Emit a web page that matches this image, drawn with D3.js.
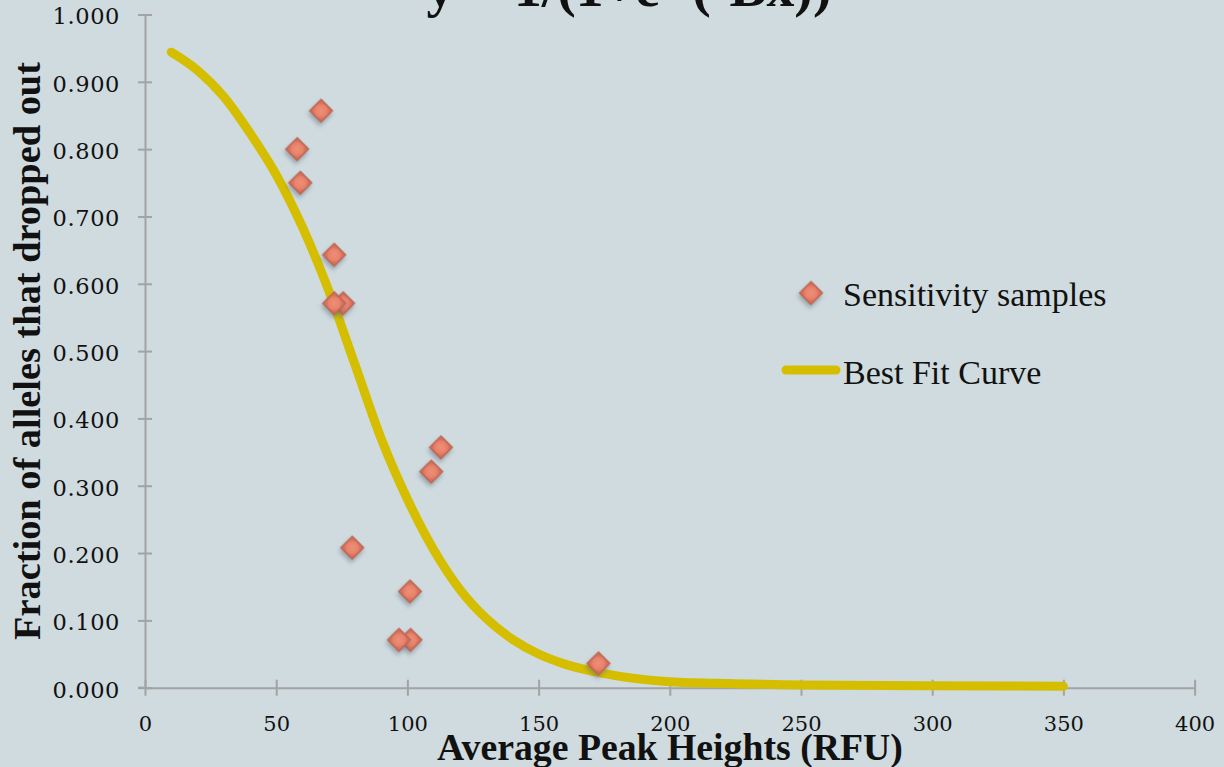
<!DOCTYPE html>
<html>
<head>
<meta charset="utf-8">
<script src="https://cdn.jsdelivr.net/npm/d3@7"></script>
<style>
  html, body { margin: 0; padding: 0; background: #cfdbdf; }
  svg { display: block; }
</style>
</head>
<body>
<svg id="chart" width="1224" height="767"></svg>
<script>
// Sensitivity samples: average peak height (RFU) vs fraction of alleles that dropped out
const sampleX = [67.1, 58.0, 59.2, 72.1, 75.5, 72.1, 112.8, 109.1, 79.0, 101.0, 101.2, 96.8, 172.8];
const sampleY = [0.857, 0.800, 0.750, 0.643, 0.571, 0.571, 0.357, 0.321, 0.208, 0.143, 0.071, 0.071, 0.036];

// Best fit (logistic) curve, sampled along x
const curveX = [10, 20, 30, 40, 50, 60, 70, 80, 90, 100, 110, 120, 130, 140, 150, 160, 175, 200, 225, 250, 300, 350];
const curveY = [0.944, 0.917, 0.878, 0.824, 0.762, 0.684, 0.590, 0.480, 0.370, 0.280, 0.205, 0.146, 0.103, 0.072, 0.050, 0.035, 0.021, 0.009, 0.006, 0.004, 0.003, 0.002];

// Axis ticks
const xTicks = [0, 50, 100, 150, 200, 250, 300, 350, 400];
const yTicks = [0, 0.1, 0.2, 0.3, 0.4, 0.5, 0.6, 0.7, 0.8, 0.9, 1.0];

const titleText = "y = 1/(1+e^(-Bx))";
const xLabel = "Average Peak Heights (RFU)";
const yLabel = "Fraction of alleles that dropped out";
const legendItems = ["Sensitivity samples", "Best Fit Curve"];

const svg = d3.select("#chart");
const W = 1224, H = 767;

const bg = "#cfdbdf";
const axisColor = "#a3a3a3";
const curveColor = "#d5be00";
const markStroke = "#b86452";

svg.append("rect").attr("width", W).attr("height", H).attr("fill", bg);

const defs = svg.append("defs");
const shadow = defs.append("filter").attr("id", "shadow")
  .attr("x", "-50%").attr("y", "-50%").attr("width", "200%").attr("height", "200%");
shadow.append("feDropShadow").attr("dx", 1.5).attr("dy", 3).attr("stdDeviation", 2)
  .attr("flood-color", "#55606a").attr("flood-opacity", 0.45);
const grad = defs.append("radialGradient").attr("id", "markGrad");
grad.append("stop").attr("offset", "0%").attr("stop-color", "#ee8f79");
grad.append("stop").attr("offset", "70%").attr("stop-color", "#e8826b");
grad.append("stop").attr("offset", "100%").attr("stop-color", "#d8705a");

const x = d3.scaleLinear().domain([0, 400]).range([145, 1194.6]);
const y = d3.scaleLinear().domain([0, 1]).range([687.7, 14.5]);

const serif = "'Liberation Serif', 'Times New Roman', serif";
const numFont = "'DejaVu Serif', serif";

// Fit a text element's font size so that its rendered length equals target
function fitText(sel, target) {
  const base = parseFloat(sel.attr("font-size"));
  const len = sel.node().getComputedTextLength();
  sel.attr("font-size", base * target / len);
}

// Title (runs off the top edge)
const title = svg.append("text")
  .attr("x", 629).attr("y", 6)
  .attr("text-anchor", "middle")
  .attr("font-family", serif).attr("font-weight", "bold")
  .attr("font-size", 40).attr("fill", "#111")
  .text(titleText);
fitText(title, 405);

// Y axis
const yAxis = svg.append("g")
  .attr("transform", `translate(${x(0)},0)`)
  .call(d3.axisLeft(y).tickValues(yTicks).tickFormat(d3.format(".3f")).tickSizeInner(7).tickSizeOuter(0).tickPadding(18));
yAxis.select(".domain").attr("stroke", axisColor).attr("stroke-width", 2);
yAxis.selectAll(".tick line").attr("x1", -7).attr("x2", 7).attr("stroke", axisColor).attr("stroke-width", 2);
yAxis.selectAll(".tick text")
  .attr("font-family", numFont).attr("font-size", 22.5).attr("fill", "#111")
  .attr("letter-spacing", 0.6)
  .attr("dy", "0.42em");

// X axis
const xAxis = svg.append("g")
  .attr("transform", `translate(0,${y(0)})`)
  .call(d3.axisBottom(x).tickValues(xTicks).tickFormat(d3.format("d")).tickSizeInner(8).tickSizeOuter(0).tickPadding(20));
xAxis.select(".domain").attr("stroke", axisColor).attr("stroke-width", 2);
xAxis.selectAll(".tick line").attr("y1", -8).attr("y2", 8).attr("stroke", axisColor).attr("stroke-width", 2);
xAxis.selectAll(".tick text")
  .attr("font-family", numFont).attr("font-size", 21).attr("fill", "#111");
svg.append("line")
  .attr("x1", x(0) - 7).attr("x2", x(0)).attr("y1", y(0)).attr("y2", y(0))
  .attr("stroke", axisColor).attr("stroke-width", 2);

// Axis titles
const xt = svg.append("text")
  .attr("x", 670).attr("y", 760)
  .attr("text-anchor", "middle")
  .attr("font-family", serif).attr("font-weight", "bold")
  .attr("font-size", 37).attr("fill", "#111")
  .text(xLabel);
fitText(xt, 466);

const yt = svg.append("text")
  .attr("transform", "translate(40,351) rotate(-90)")
  .attr("text-anchor", "middle")
  .attr("font-family", serif).attr("font-weight", "bold")
  .attr("font-size", 36).attr("fill", "#111")
  .text(yLabel);
fitText(yt, 578);

// Best fit curve
const curveData = curveX.map((v, i) => [v, curveY[i]]);
svg.append("path")
  .datum(curveData)
  .attr("fill", "none")
  .attr("stroke", curveColor)
  .attr("stroke-width", 9)
  .attr("stroke-linecap", "round")
  .attr("d", d3.line().x(d => x(d[0])).y(d => y(d[1])).curve(d3.curveMonotoneX));

// Sample markers (rotated squares)
const diamond = d3.symbol().type(d3.symbolSquare).size(256);
const samples = sampleX.map((v, i) => [v, sampleY[i]]);
svg.append("g").selectAll("path")
  .data(samples)
  .join("path")
  .attr("d", diamond)
  .attr("transform", d => `translate(${x(d[0])},${y(d[1])}) rotate(45)`)
  .attr("fill", "url(#markGrad)")
  .attr("stroke", markStroke)
  .attr("stroke-width", 1.3)
  .attr("filter", "url(#shadow)");

// Legend
const legend = svg.append("g");
legend.append("path")
  .attr("d", diamond)
  .attr("transform", "translate(811,293) rotate(45)")
  .attr("fill", "url(#markGrad)")
  .attr("stroke", markStroke)
  .attr("stroke-width", 1.3)
  .attr("filter", "url(#shadow)");
legend.append("text")
  .attr("x", 843).attr("y", 306)
  .attr("font-family", serif).attr("font-size", 34).attr("fill", "#111")
  .text(legendItems[0]);
legend.append("line")
  .attr("x1", 786).attr("x2", 836).attr("y1", 370).attr("y2", 370)
  .attr("stroke", curveColor).attr("stroke-width", 9).attr("stroke-linecap", "round");
legend.append("text")
  .attr("x", 843).attr("y", 384)
  .attr("font-family", serif).attr("font-size", 34).attr("fill", "#111")
  .text(legendItems[1]);
</script>
</body>
</html>
